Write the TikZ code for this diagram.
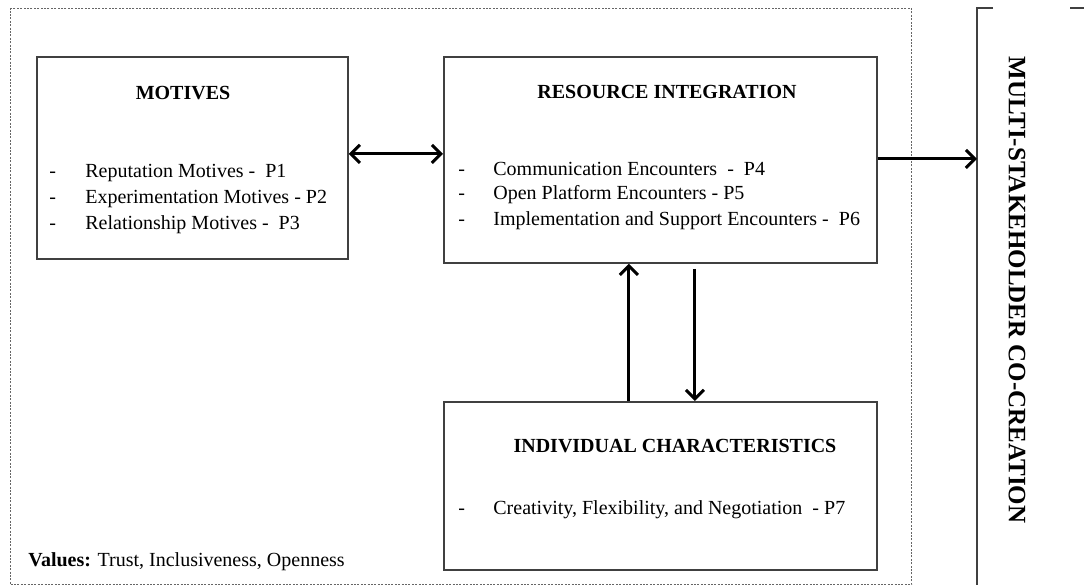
\documentclass[tikz,border=0pt]{standalone}
\usepackage{fontspec}
\setmainfont{Liberation Serif}
\usetikzlibrary{arrows.meta}
\tikzset{
  box/.style={draw=black!75, line width=0.9pt, inner sep=0pt, anchor=north west},
  title/.style={font=\bfseries\fontsize{10}{12}\selectfont},
  item/.style={anchor=west, inner sep=0pt, font=\fontsize{10}{12}\selectfont},
  tip/.style={Straight Barb[length=4.5pt,width=9pt,line width=1.6pt]},
  arr/.style={line width=1.5pt, -{Straight Barb[length=4.5pt,width=9pt]}}
}
\begin{document}
\begin{tikzpicture}[x=0.5pt,y=-0.5pt]
  \useasboundingbox (0,0) rectangle (1084,585);
  % dotted frame
  \node[box, draw=black!60, line width=0.6pt, dash pattern=on 1pt off 0.7pt,
    minimum width=450.5pt, minimum height=288pt] (frame) at (10,8) {};
  % boxes
  \node[box, minimum width=155.5pt, minimum height=101pt] (mot) at (36,56) {};
  \node[box, minimum width=216.5pt, minimum height=103pt] (res) at (443,56) {};
  \node[box, minimum width=216.5pt, minimum height=84pt] (ind) at (443,401) {};
  \node[inner sep=0pt, minimum width=60pt, minimum height=288pt, anchor=north west] (stake) at (977,8) {};
  \draw[black!75, line width=0.9pt]
    ([xshift=8pt]stake.north west) -- (stake.north west) -- (stake.south west);
  \draw[black!75, line width=0.9pt] ([xshift=46.5pt]stake.north west) -- ++(10pt,0);
  % texts
  \node[title] (mottitle) at (183,93) {MOTIVES};
  \node[item] (p1) at (49,173) {\makebox[18pt][l]{-}Reputation Motives -\ \ P1};
  \node[item] (p2) at (49,199) {\makebox[18pt][l]{-}Experimentation Motives - P2};
  \node[item] (p3) at (49,225) {\makebox[18pt][l]{-}Relationship Motives -\ \ P3};
  \node[title] (restitle) at (667,92) {RESOURCE INTEGRATION};
  \node[item] (p4) at (458,169) {\makebox[17.5pt][l]{-}Communication Encounters\ \ -\ \ P4};
  \node[item] (p5) at (458,195) {\makebox[17.5pt][l]{-}Open Platform Encounters - P5};
  \node[item] (p6) at (458,221) {\makebox[17.5pt][l]{-}Implementation and Support Encounters -\ \ P6};
  \node[title] (indtitle) at (675,446) {INDIVIDUAL CHARACTERISTICS};
  \node[item] (p7) at (458,510) {\makebox[17.5pt][l]{-}Creativity, Flexibility, and Negotiation\ \ - P7};
  \node[item] (values) at (28,562) {\textbf{Values:} Trust, Inclusiveness, Openness};
  \node[rotate=-90, font=\bfseries\fontsize{12.5}{14}\selectfont] (msc) at (1017,290)
    {MULTI-STAKEHOLDER CO-CREATION};
  % arrows
  \draw[arr, {Straight Barb[length=4.5pt,width=9pt]}-{Straight Barb[length=4.5pt,width=9pt]}]
    ([yshift=2pt]mot.east) -- ([yshift=2pt]mot.east -| res.west);
  \draw[arr] ([yshift=0.5pt]res.east) -- ([yshift=0.5pt]res.east -| stake.west);
  \draw[arr] ([xshift=-15.75pt]ind.north) -- ([xshift=-15.75pt]res.south);
  \draw[arr] ([xshift=17.25pt,yshift=-2.5pt]res.south) -- ([xshift=17.25pt]ind.north);
\end{tikzpicture}
\end{document}
